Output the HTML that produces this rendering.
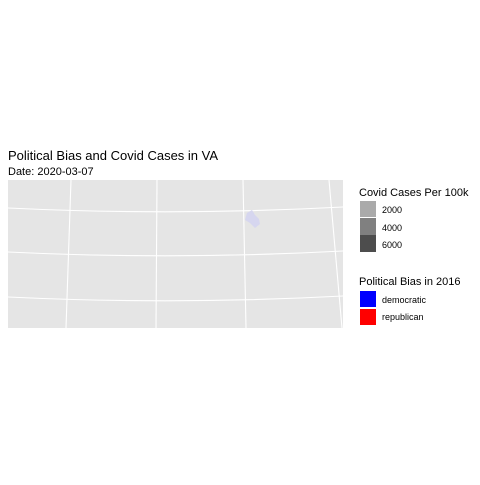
<!DOCTYPE html>
<html><head><meta charset="utf-8"><style>
body{margin:0;background:#fff;font-family:"Liberation Sans",sans-serif}
</style></head><body>
<svg width="480" height="480" viewBox="0 0 480 480" xmlns="http://www.w3.org/2000/svg" font-family="Liberation Sans, sans-serif">
<text x="8" y="160" font-size="13" fill="#000">Political Bias and Covid Cases in VA</text>
<text x="8" y="175" font-size="11" fill="#000">Date: 2020-03-07</text>
<rect x="8" y="180" width="335" height="148" fill="#e5e5e5"/>
<g stroke="#fff" stroke-width="1.1" fill="none">
<path d="M8 208 Q175 216 343 207"/>
<path d="M8 252 Q175 260 343 251"/>
<path d="M8 297 Q175 305 343 296"/>
<path d="M71 180 L66 328"/>
<path d="M157 180 L156 328"/>
<path d="M243 180 L246 328"/>
<path d="M329 180 L342 328"/>
</g>
<path d="M247 213 L252 210 L255 215 L259 219 L260 224 L255 228 L250 223 L245 220 Z" fill="#d6d6ef"/>
<text x="359" y="196" font-size="11">Covid Cases Per 100k</text>
<rect x="360" y="201" width="16" height="16" fill="#aaaaaa"/>
<rect x="360" y="218" width="16" height="17" fill="#808080"/>
<rect x="360" y="235" width="16" height="17" fill="#4d4d4d"/>
<text x="382" y="213" font-size="9">2000</text>
<text x="382" y="231" font-size="9">4000</text>
<text x="382" y="248" font-size="9">6000</text>
<text x="359" y="285" font-size="11">Political Bias in 2016</text>
<rect x="360" y="291" width="16" height="16" fill="#0000ff"/>
<rect x="360" y="309" width="16" height="16" fill="#ff0000"/>
<text x="382" y="303" font-size="9">democratic</text>
<text x="382" y="320" font-size="9">republican</text>
</svg>
</body></html>
